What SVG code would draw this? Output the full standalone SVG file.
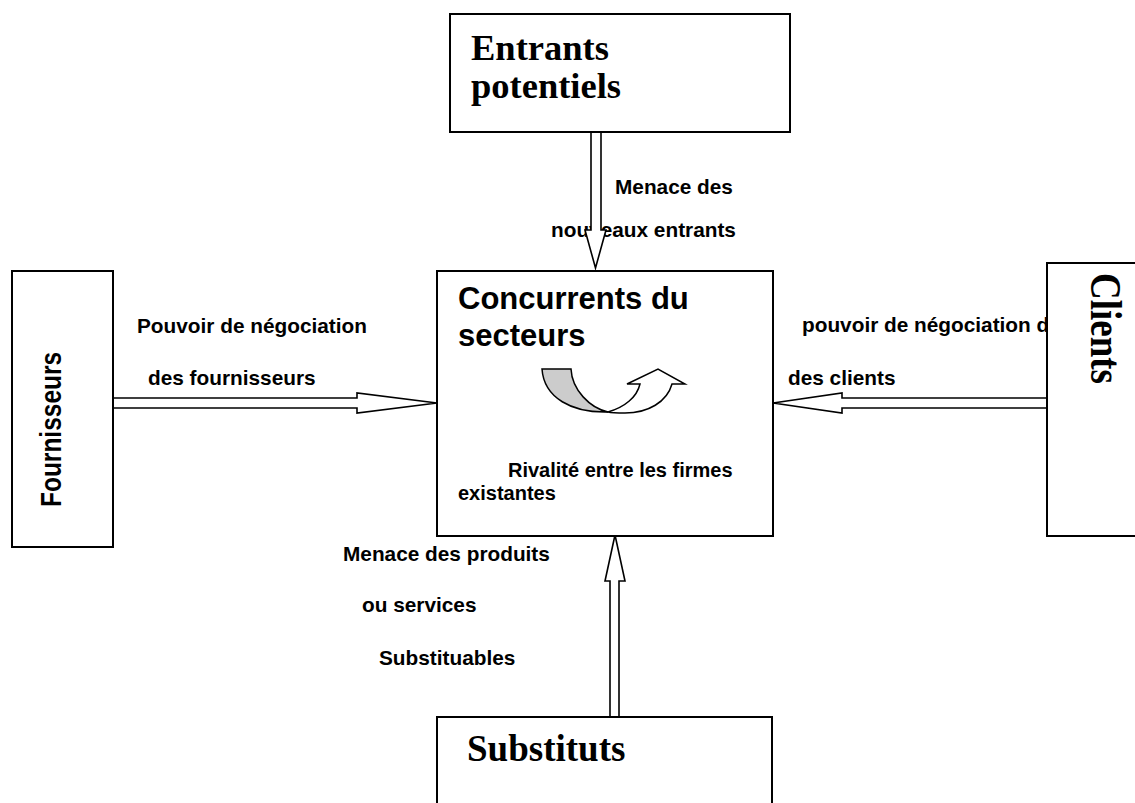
<svg xmlns="http://www.w3.org/2000/svg" width="1135" height="803" viewBox="0 0 1135 803">
<style>
.box{fill:#fff;stroke:#000;stroke-width:2}
.arr{fill:#fff;stroke:#000;stroke-width:1.6;stroke-linejoin:miter}
.ser{font-family:"Liberation Serif","Times New Roman",serif;font-weight:bold;fill:#000}
.san{font-family:"Liberation Sans",Arial,sans-serif;font-weight:bold;fill:#000}
.lbl{font-size:20.8px}
</style>
<rect width="1135" height="803" fill="#fff"/>
<g id="labels">
<text class="san lbl" x="615" y="194">Menace des</text>
<text class="san lbl" x="551" y="237">nouveaux entrants</text>
<text class="san lbl" x="137" y="333">Pouvoir de négociation</text>
<text class="san lbl" x="148" y="385">des fournisseurs</text>
<text class="san lbl" x="802" y="332">pouvoir de négociation des</text>
<text class="san lbl" x="788" y="385">des clients</text>
<text class="san lbl" x="343" y="561">Menace des produits</text>
<text class="san lbl" x="362" y="612">ou services</text>
<text class="san lbl" x="379" y="665">Substituables</text>
</g>
<g id="connectors">
<path class="arr" d="M591,132 L591,230 L585,230 L595.5,268 L606,230 L601,230 L601,132"/>
<path class="arr" d="M113,398 L357,398 L357,393 L437,403 L357,413 L357,408 L113,408"/>
<path class="arr" d="M1047,398 L842,398 L842,393 L773,403 L842,413 L842,408 L1047,408"/>
<path class="arr" d="M610,717 L610,581 L605,581 L615,535 L625,581 L619,581 L619,717"/>
</g>
<g id="entrants">
<rect class="box" x="450" y="14" width="340" height="118"/>
<text class="ser" x="471" y="60" font-size="36.5">Entrants</text>
<text class="ser" x="471" y="98" font-size="36.5">potentiels</text>
</g>
<g id="concurrents">
<rect class="box" x="437" y="271" width="336" height="265"/>
<text class="san" x="458" y="309" font-size="31">Concurrents du</text>
<text class="san" x="458" y="346" font-size="31">secteurs</text>
<path d="M542,369 L571,369 C572,390 590,408 608,412 C572,413 544,398 542,369 Z" fill="#ccc" stroke="#000" stroke-width="1.5"/>
<path d="M608,412 C625,407 637,397 640,384 L627,384 L658,369 L685,384 L672,384 C667,402 648,413 625,413 C618,413 612,413 608,412 Z" fill="#fff" stroke="#000" stroke-width="1.5"/>
<text class="san" x="508" y="477" font-size="20">Rivalité entre les firmes</text>
<text class="san" x="458" y="500" font-size="20">existantes</text>
</g>
<g id="fournisseurs">
<rect class="box" x="12" y="271" width="101" height="276"/>
<text class="san" transform="translate(61,507) rotate(-90) scale(1,1.2)" font-size="24.5">Fournisseurs</text>
</g>
<g id="clients">
<rect class="box" x="1047" y="263" width="110" height="273"/>
<text class="ser" transform="translate(1091,273) rotate(90) scale(1,1.2)" font-size="37">Clients</text>
</g>
<g id="substituts">
<rect class="box" x="437" y="717" width="335" height="110"/>
<text class="ser" x="467" y="761" font-size="37">Substituts</text>
</g>
</svg>
